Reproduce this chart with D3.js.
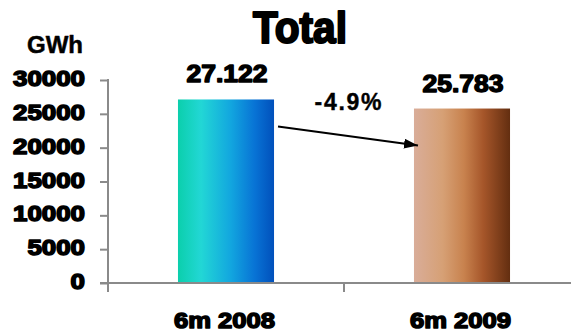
<!DOCTYPE html>
<html>
<head>
<meta charset="utf-8">
<script src="https://cdn.jsdelivr.net/npm/d3@7"></script>
<style>
  html, body { margin: 0; padding: 0; background: #fff; }
  svg { display: block; font-family: "Liberation Sans", Arial, sans-serif; }
</style>
</head>
<body>
<svg id="chart" width="571" height="334"></svg>
<script>
// Electricity totals, first six months of each year (GWh)
const categories = ["6m 2008", "6m 2009"];
const values = [27122, 25783];
const yTicks = [0, 5000, 10000, 15000, 20000, 25000, 30000];
const titleText = "Total";
const unitText = "GWh";

const svg = d3.select("#chart");
const W = 571, H = 334;

const x = d3.scaleBand()
  .domain(categories)
  .range([108, 580])
  .paddingInner(0.593)
  .paddingOuter(0.2965);

const y = d3.scaleLinear().domain([0, 30000]).range([283, 80]);

const locale = d3.formatLocale({ decimal: ",", thousands: ".", grouping: [3], currency: ["", ""], minus: "-" });
const fmtVal = locale.format(",d");
const fmtTick = locale.format("d");
const fmtPct = locale.format(".1f");

// Gradients for the two bars
const defs = svg.append("defs");
const gradStops = [
  [["0%", "#0bcfac"], ["24%", "#22d7d5"], ["55%", "#12a6df"], ["80%", "#0873d5"], ["100%", "#0150bb"]],
  [["0%", "#d9ad99"], ["30%", "#d6a075"], ["52%", "#c8824e"], ["72%", "#a6562a"], ["100%", "#632e10"]]
];
gradStops.forEach((stops, i) => {
  const g = defs.append("linearGradient").attr("id", "barGrad" + i)
    .attr("x1", "0%").attr("x2", "100%").attr("y1", "0%").attr("y2", "0%");
  stops.forEach(s => g.append("stop").attr("offset", s[0]).attr("stop-color", s[1]));
});
defs.append("marker").attr("id", "arrowHead")
  .attr("viewBox", "0 0 14 10").attr("refX", 14).attr("refY", 5)
  .attr("markerWidth", 14).attr("markerHeight", 10)
  .attr("markerUnits", "userSpaceOnUse").attr("orient", "auto")
  .append("path").attr("d", "M0,0 L14,5 L0,10 Z").attr("fill", "#000");

// Bars
svg.append("g").selectAll("rect").data(values).join("rect")
  .attr("x", (d, i) => x(categories[i]))
  .attr("y", d => y(d))
  .attr("width", x.bandwidth())
  .attr("height", d => y(0) - y(d))
  .attr("fill", (d, i) => `url(#barGrad${i})`);

// Heavy text helper: bold face thickened with a stroke
function heavy(sel, size, sw) {
  return sel.attr("font-weight", "bold").attr("font-size", size)
    .attr("fill", "#000").attr("stroke", "#000").attr("stroke-width", sw)
    .attr("stroke-linejoin", "round")
    .attr("paint-order", "stroke");
}

// Y axis
const yAxis = d3.axisLeft(y).tickValues(yTicks).tickFormat(fmtTick)
  .tickSize(8).tickSizeOuter(0).tickPadding(15);
const gy = svg.append("g").attr("transform", "translate(108,0)").call(yAxis);
gy.select(".domain").remove();
gy.selectAll(".tick line").attr("stroke", "#8a8a8a").attr("stroke-width", 2);
gy.selectAll(".tick text")
  .attr("dy", "0.25em")
  .attr("font-family", "'Liberation Sans', Arial, sans-serif")
  .call(heavy, 22, 1.5)
  .each(function (d) {
    const n = fmtTick(d).length;
    d3.select(this).attr("textLength", n * 14.4).attr("lengthAdjust", "spacingAndGlyphs");
  });
svg.append("line")
  .attr("x1", 108).attr("x2", 108)
  .attr("y1", y(30000) - 1).attr("y2", y(0) + 9)
  .attr("stroke", "#8a8a8a").attr("stroke-width", 2);

// X axis
svg.append("line")
  .attr("x1", 100).attr("x2", W)
  .attr("y1", y(0)).attr("y2", y(0))
  .attr("stroke", "#8a8a8a").attr("stroke-width", 2);
const mid = x(categories[0]) + x.step() / 2 + x.bandwidth() / 2;
svg.append("line")
  .attr("x1", mid).attr("x2", mid)
  .attr("y1", y(0)).attr("y2", y(0) + 9)
  .attr("stroke", "#8a8a8a").attr("stroke-width", 2);

// Category labels
svg.append("g").selectAll("text").data(categories).join("text")
  .attr("x", d => x(d) + x.bandwidth() / 2 - 1.5)
  .attr("y", 328)
  .attr("text-anchor", "middle")
  .call(heavy, 22, 1.5)
  .attr("textLength", 101).attr("lengthAdjust", "spacingAndGlyphs")
  .text(d => d);

// Value labels
svg.append("g").selectAll("text").data(values).join("text")
  .attr("x", (d, i) => x(categories[i]) + x.bandwidth() / 2 + 1)
  .attr("y", d => y(d) - 17)
  .attr("text-anchor", "middle")
  .call(heavy, 23, 1.4)
  .attr("textLength", 81).attr("lengthAdjust", "spacingAndGlyphs")
  .text(d => fmtVal(d));

// Change arrow and percentage
const x1 = x(categories[0]) + x.bandwidth() + 4;
const x2 = x(categories[1]) + 4;
svg.append("line")
  .attr("x1", x1).attr("y1", y(values[0]) + 27)
  .attr("x2", x2).attr("y2", y(values[1]) + 37)
  .attr("stroke", "#000").attr("stroke-width", 2)
  .attr("marker-end", "url(#arrowHead)");
const pct = (values[1] / values[0] - 1) * 100;
svg.append("text")
  .attr("x", (x1 + x2) / 2 + 0)
  .attr("y", 110)
  .attr("text-anchor", "middle")
  .call(heavy, 23, 0.4)
  .attr("textLength", 67).attr("lengthAdjust", "spacing")
  .text(fmtPct(pct).replace(",", ".") + "%");

// Title and unit
svg.append("text")
  .attr("x", 300).attr("y", 43)
  .attr("text-anchor", "middle")
  .call(heavy, 45, 2.2)
  .attr("textLength", 94).attr("lengthAdjust", "spacingAndGlyphs")
  .text(titleText);
svg.append("text")
  .attr("x", 83).attr("y", 53)
  .attr("text-anchor", "end")
  .call(heavy, 24, 0.5)
  .text(unitText);
</script>
</body>
</html>
